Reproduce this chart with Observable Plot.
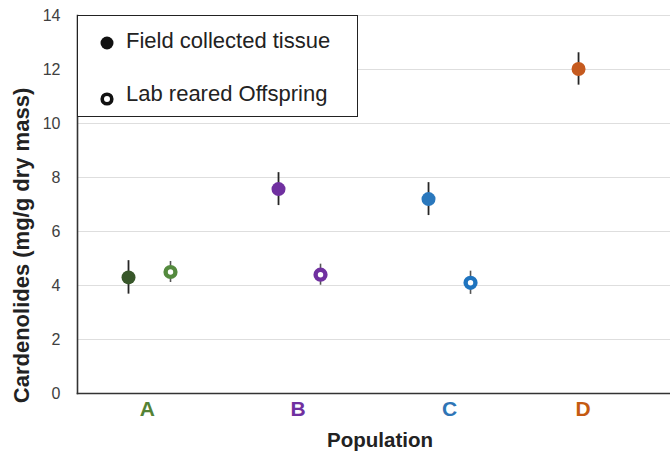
<!DOCTYPE html>
<html>
<head>
<meta charset="utf-8">
<script src="https://cdn.jsdelivr.net/npm/d3@7"></script>
<script src="https://cdn.jsdelivr.net/npm/@observablehq/plot@0.6"></script>
<style>
  html, body { margin: 0; padding: 0; background: #fff; }
  #wrap { position: relative; width: 670px; height: 452px; font-family: "Liberation Sans", Arial, sans-serif; }
  #legend { position: absolute; left: 77px; top: 15px; width: 281px; height: 102px; border: 1px solid #222; background: #fff; box-sizing: border-box; }
  .txt { position: absolute; left: 48px; height: 24px; line-height: 24px; font-size: 22px; color: #222; white-space: nowrap; }
  .sym { position: absolute; left: 22px; }
  g[aria-label="y-axis tick label"] text { font-size: 16px; fill: #404040; }
</style>
</head>
<body>
<div id="wrap">
  <div id="chart"></div>
  <div id="legend">
    <svg class="sym" style="top:20px" width="14" height="14"><circle cx="7" cy="7" r="6.5" fill="#111"/></svg>
    <div class="txt" style="top:13px">Field collected tissue</div>
    <svg class="sym" style="top:76px" width="14" height="14"><circle cx="7" cy="7" r="4.8" fill="#fff" stroke="#111" stroke-width="3.6"/></svg>
    <div class="txt" style="top:66px">Lab reared Offspring</div>
  </div>
</div>
<script>
// Categories and values
const populations = ["A", "B", "C", "D"];
const categoryIndex = [1, 2, 3, 4];
const labelPositions = [0.985, 1.99, 3.0, 3.89];
const fieldMean = [4.3, 7.57, 7.2, 12.02];
const fieldErr = [0.62, 0.61, 0.61, 0.6];
const labMean = [4.5, 4.4, 4.1, null];
const labErr = [0.39, 0.39, 0.43, null];
const fieldColors = ["#38572a", "#7030a0", "#2a78bd", "#c55a1f"];
const labColors = ["#548a3e", "#7030a0", "#1f74bf", "#c55a1f"];
const labelColors = ["#548235", "#7030a0", "#2e75b6", "#c55a11"];
const yTicks = [0, 2, 4, 6, 8, 10, 12, 14];
const yTitle = "Cardenolides (mg/g dry mass)";
const xTitle = "Population";
const groupOffset = 0.14;

const field = populations.map((p, i) => ({pop: p, x: categoryIndex[i] - groupOffset, y: fieldMean[i], lo: fieldMean[i] - fieldErr[i], hi: fieldMean[i] + fieldErr[i], color: fieldColors[i]}));
const lab = populations.map((p, i) => ({pop: p, x: categoryIndex[i] + groupOffset, y: labMean[i], lo: labMean[i] - labErr[i], hi: labMean[i] + labErr[i], color: labColors[i]})).filter(d => d.y != null);
const labels = populations.map((p, i) => ({pop: p, x: labelPositions[i], color: labelColors[i]}));

const chart = Plot.plot({
  width: 670,
  height: 452,
  marginLeft: 77,
  marginRight: 0,
  marginTop: 15,
  marginBottom: 59,
  style: {fontFamily: "'Liberation Sans', Arial, sans-serif", background: "#fff"},
  x: {domain: [0.52, 4.473], axis: null},
  y: {domain: [0, 14], ticks: yTicks},
  marks: [
    Plot.gridY(yTicks, {stroke: "#dedede", strokeOpacity: 1, strokeWidth: 1.2}),
    Plot.axisY(yTicks, {tickSize: 0, tickPadding: 17, label: null}),
    Plot.ruleX(field, {x: "x", y1: "lo", y2: "hi", stroke: "#262626", strokeWidth: 1.8}),
    Plot.ruleX(lab, {x: "x", y1: "lo", y2: "hi", stroke: "#555", strokeWidth: 1.6}),
    Plot.dot(field, {x: "x", y: "y", r: 7, fill: "color", stroke: null}),
    Plot.dot(lab, {x: "x", y: "y", r: 4.9, fill: "#fff", stroke: "color", strokeWidth: 4.4}),
    Plot.frame({anchor: "left", stroke: "#333", strokeWidth: 1.6}),
    Plot.frame({anchor: "bottom", stroke: "#333", strokeWidth: 1.6}),
    Plot.text(labels, {x: "x", y: () => 0, text: "pop", fill: "color", fontWeight: "bold", fontSize: 21, dy: 16}),
    Plot.text([xTitle], {frameAnchor: "bottom", text: d => d, textAnchor: "middle", lineAnchor: "middle", dx: 6, dy: 47, fontWeight: "bold", fontSize: 20.5, fill: "#222"}),
    Plot.text([yTitle], {frameAnchor: "left", text: d => d, textAnchor: "middle", lineAnchor: "middle", rotate: -90, dx: -56, dy: 41, fontWeight: "bold", fontSize: 22, fill: "#222"})
  ]
});
document.getElementById("chart").appendChild(chart);
</script>
</body>
</html>
